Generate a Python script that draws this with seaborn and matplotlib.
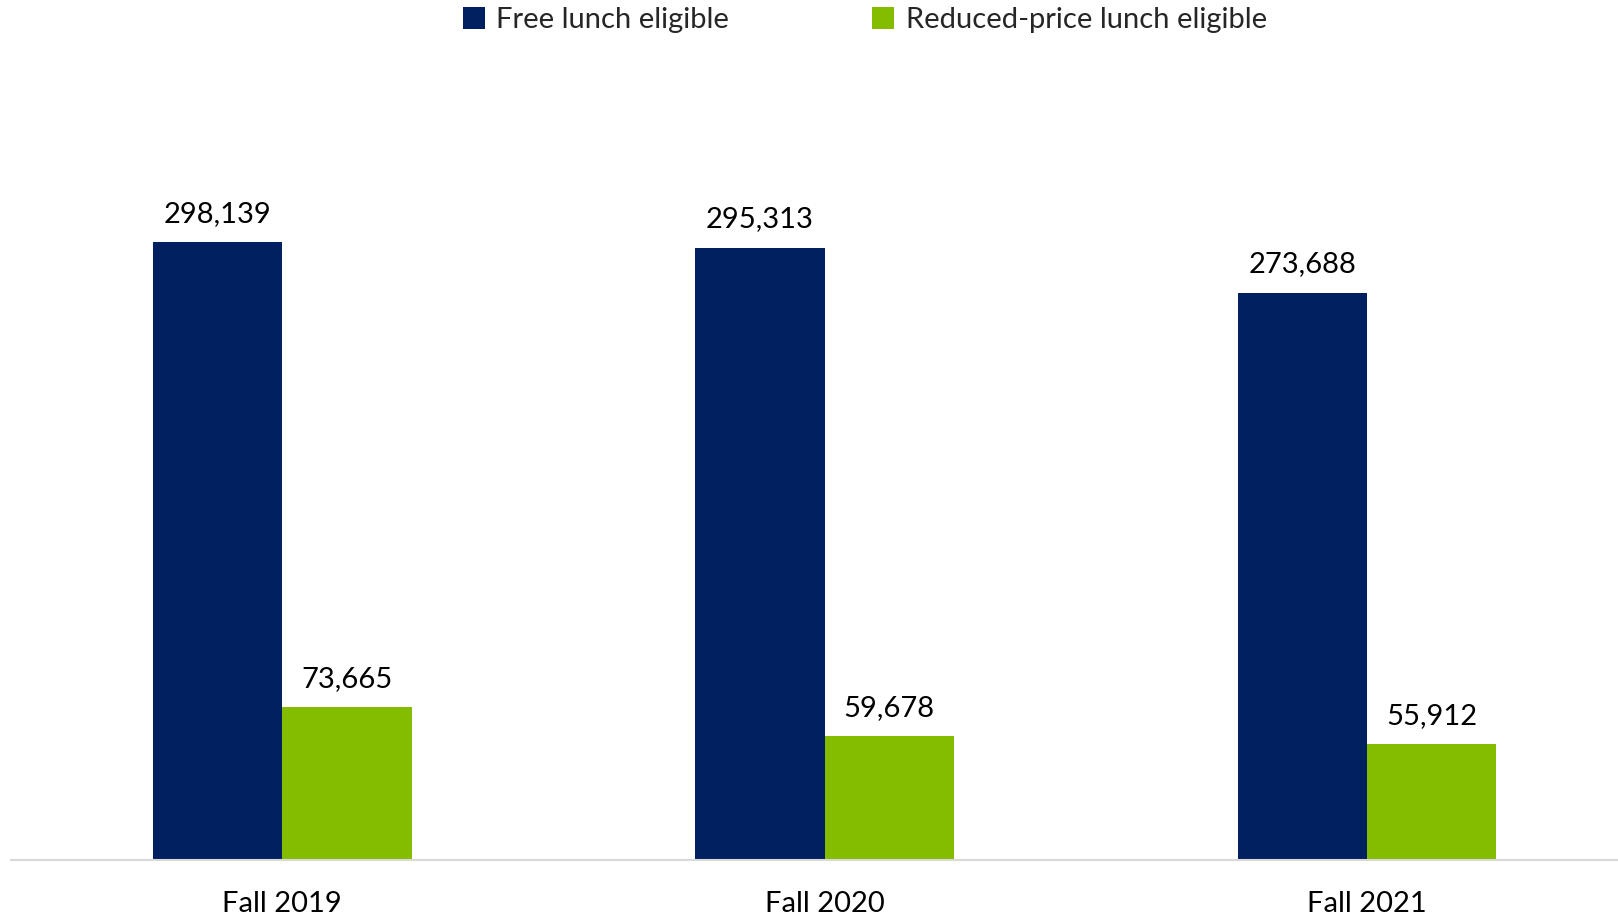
import pandas as pd
import seaborn as sns
import matplotlib.pyplot as plt

terms = ["Fall 2019", "Fall 2020", "Fall 2021"]
free_lunch = [298139, 295313, 273688]
reduced_lunch = [73665, 59678, 55912]
series = ["Free lunch eligible", "Reduced-price lunch eligible"]
colors = ["#00205F", "#84BC00"]

tabela = pd.DataFrame({
    "term": terms * 2,
    "count": free_lunch + reduced_lunch,
    "group": [series[0]] * 3 + [series[1]] * 3,
})

sns.set_style("white")
plt.rcParams["font.family"] = ["Lato", "DejaVu Sans"]

fig = plt.figure(figsize=(16.18, 9.17), dpi=100)
ax = fig.add_axes([11 / 1618, (917 - 860) / 917, 1607 / 1618, 800 / 917])

sns.barplot(data=tabela, x="term", y="count", hue="group", palette=colors,
            width=0.477, gap=0, saturation=1, linewidth=0, ax=ax, legend=True)

for c in ax.containers:
    ax.bar_label(c, labels=[f"{v:,.0f}" for v in c.datavalues],
                 padding=11, fontsize=21, color="black")

ax.set_xlim(-0.5, 2.463)
ax.set_ylim(0, 800 / 0.002073)
ax.set_xlabel("")
ax.set_ylabel("")
ax.set_yticks([])
ax.tick_params(axis="x", length=0, labelsize=21, pad=22, colors="black")
for s in ["top", "right", "left"]:
    ax.spines[s].set_visible(False)
ax.spines["bottom"].set_color("#d9d9d9")
ax.spines["bottom"].set_linewidth(1.5)

handles, labels = ax.get_legend_handles_labels()
ax.get_legend().remove()
fig.legend(handles, labels, loc="center", bbox_to_anchor=(0.5345, 1 - 20 / 917),
           ncol=2, frameon=False, fontsize=21, handlelength=0.75, handleheight=0.75,
           handletextpad=0.4, columnspacing=4.9)

fig.savefig("out.png", dpi=100)
